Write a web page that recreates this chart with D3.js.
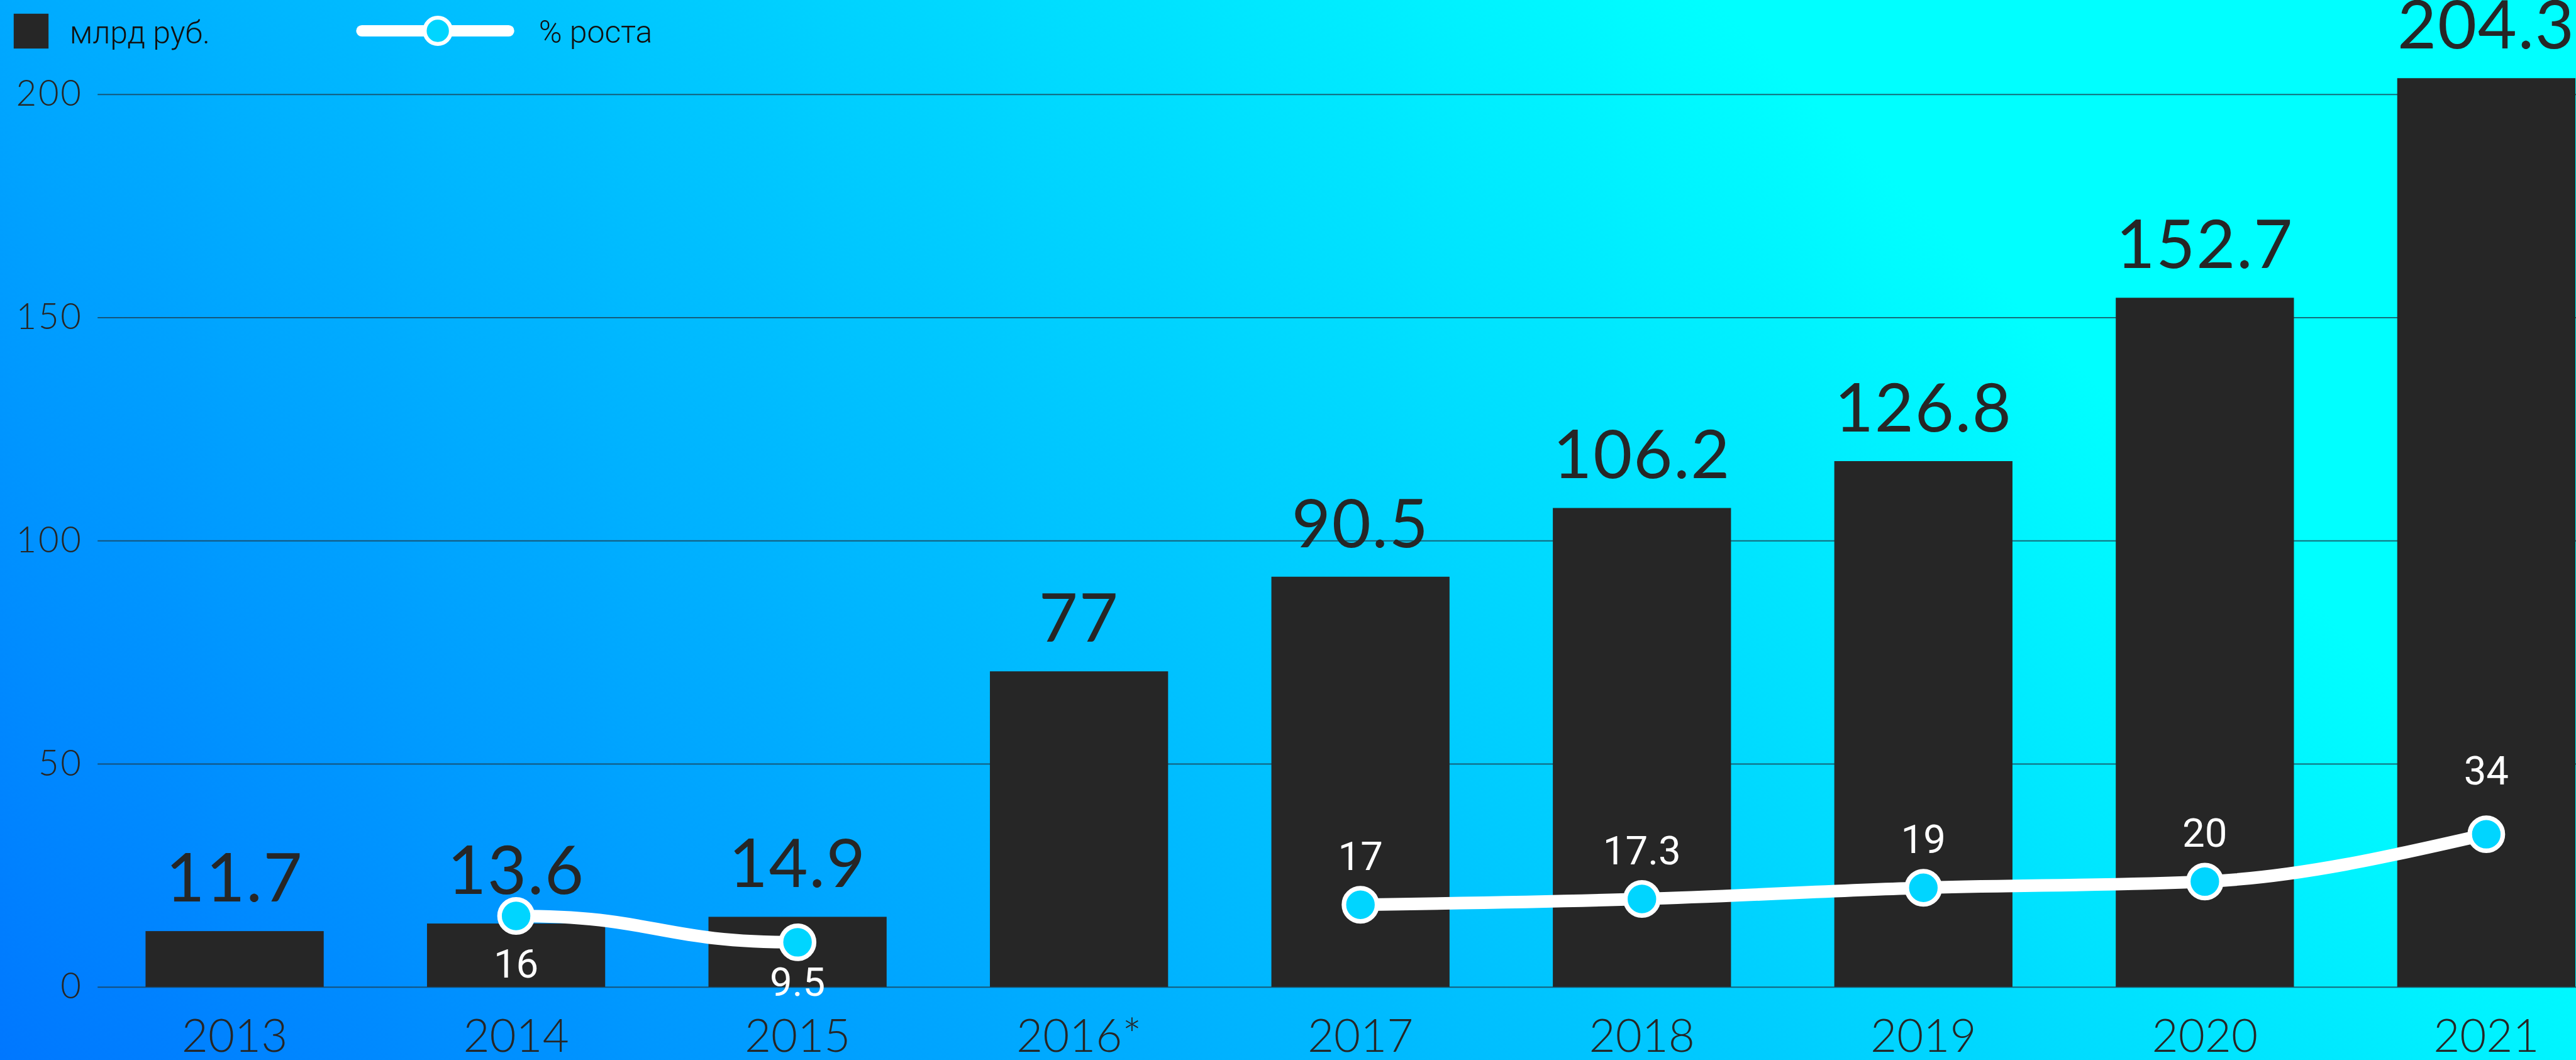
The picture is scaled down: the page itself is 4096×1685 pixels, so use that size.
<!DOCTYPE html>
<html>
<head>
<meta charset="utf-8">
<script src="https://cdn.jsdelivr.net/npm/d3@7"></script>
<style>
  html, body { margin:0; padding:0; overflow:hidden; }
  svg { display:block; }
</style>
</head>
<body>
<div id="plot"></div>
<script>
// chart data
var years = ['2013','2014','2015','2016*','2017','2018','2019','2020','2021'];
// bar heights as drawn (axis units) and the labels printed over them
var barValues = [12.5, 14.2, 15.7, 70.7, 91.9, 107.3, 117.8, 154.4, 203.6];
var barLabels = ['11.7','13.6','14.9','77','90.5','106.2','126.8','152.7','204.3'];
// growth line: position on the same axis, and printed % value (no point for 2016*)
var growthValues = [null, 15.9, 10.0, null, 18.4, 19.7, 22.2, 23.6, 34.2];
var growthLabels = [null, '16', '9.5', null, '17', '17.3', '19', '20', '34'];
var yTicks = [0, 50, 100, 150, 200];

// drawing is done in reference units (4513 x 1856), viewBox scales it to the window
var W = 4513, H = 1856;
var svg = d3.select('#plot')
    .append('svg')
    .attr('width', 4096)
    .attr('height', 1685)
    .attr('viewBox', '0 0 ' + W + ' ' + H)
    .attr('preserveAspectRatio', 'none');

// background gradient, blue bottom-left to cyan top-right
var defs = svg.append('defs');
var grad = defs.append('linearGradient')
    .attr('id', 'bg')
    .attr('gradientUnits', 'userSpaceOnUse')
    .attr('x1', 0).attr('y1', H)
    .attr('x2', 2430).attr('y2', H - 2430);
grad.append('stop').attr('offset', 0).attr('stop-color', '#0077ff');
grad.append('stop').attr('offset', 0.55).attr('stop-color', '#00c0ff');
grad.append('stop').attr('offset', 1).attr('stop-color', '#00ffff');
svg.append('rect').attr('width', W).attr('height', H).attr('fill', 'url(#bg)');

var x = d3.scaleBand()
    .domain(years)
    .range([164.5, 164.5 + 9 * 493.1])
    .paddingInner(0.367)
    .paddingOuter(0.1835);

var y = d3.scaleLinear()
    .domain([0, 200])
    .range([1728, 165]);

// y axis with gridlines
var yAxis = svg.append('g')
    .attr('transform', 'translate(171,0)')
    .call(d3.axisLeft(y).tickValues(yTicks).tickSize(-(W - 171)).tickPadding(26));
yAxis.select('.domain').remove();
yAxis.selectAll('.tick line')
    .attr('stroke', '#1c3c4c')
    .attr('stroke-opacity', 0.75)
    .attr('stroke-width', 2.2);
yAxis.selectAll('.tick text')
    .attr('fill', '#262626')
    .style('font-family', 'Lato, sans-serif')
    .style('font-weight', 300)
    .style('font-size', '62px')
    .style('letter-spacing', '3px');

// x axis labels
var xAxis = svg.append('g')
    .attr('transform', 'translate(0,1728)')
    .call(d3.axisBottom(x).tickSize(0));
xAxis.select('.domain').remove();
xAxis.selectAll('.tick text')
    .attr('y', 114)
    .attr('dy', null)
    .attr('fill', '#262626')
    .style('font-family', 'Lato, sans-serif')
    .style('font-weight', 300)
    .style('font-size', '80px');

// bars
svg.append('g').selectAll('rect')
    .data(years)
    .join('rect')
    .attr('x', function(d){ return x(d); })
    .attr('y', function(d, i){ return y(barValues[i]); })
    .attr('width', x.bandwidth())
    .attr('height', function(d, i){ return y(0) - y(barValues[i]); })
    .attr('fill', '#262626');

// bar labels
svg.append('g').selectAll('text')
    .data(years)
    .join('text')
    .attr('x', function(d){ return x(d) + x.bandwidth() / 2; })
    .attr('y', function(d, i){ return y(barValues[i]) - 52; })
    .attr('text-anchor', 'middle')
    .attr('fill', '#262626')
    .style('font-family', 'Lato, sans-serif')
    .style('font-weight', 400)
    .style('font-size', '118px')
    .style('letter-spacing', '2px')
    .text(function(d, i){ return barLabels[i]; });

// growth line: two pieces, the 2016* gap splits it
var pts = years.map(function(d, i){
    return {x: x(d) + x.bandwidth() / 2, v: growthValues[i], label: growthLabels[i], i: i};
});
var first = pts.filter(function(p){ return p.v != null && p.i < 3; });
var second = pts.filter(function(p){ return p.v != null && p.i > 3; });

var lineBump = d3.line().x(function(p){ return p.x; }).y(function(p){ return y(p.v); }).curve(d3.curveBumpX);
var lineMono = d3.line().x(function(p){ return p.x; }).y(function(p){ return y(p.v); }).curve(d3.curveMonotoneX);

svg.append('path').attr('d', lineBump(first))
    .attr('fill', 'none').attr('stroke', '#fff').attr('stroke-width', 22);
svg.append('path').attr('d', lineMono(second))
    .attr('fill', 'none').attr('stroke', '#fff').attr('stroke-width', 22);

var dots = pts.filter(function(p){ return p.v != null; });
svg.append('g').selectAll('circle')
    .data(dots)
    .join('circle')
    .attr('cx', function(p){ return p.x; })
    .attr('cy', function(p){ return y(p.v); })
    .attr('r', 29)
    .attr('fill', '#00d5ff')
    .attr('stroke', '#fff')
    .attr('stroke-width', 8);

svg.append('g').selectAll('text')
    .data(dots)
    .join('text')
    .attr('x', function(p){ return p.x; })
    .attr('y', function(p){
        if (p.i < 3) return y(p.v) + (p.i == 1 ? 108 : 94);
        return y(p.v) - (p.i == 8 ? 87 : 61);
    })
    .attr('text-anchor', 'middle')
    .attr('fill', '#fff')
    .style('font-family', 'Roboto, sans-serif')
    .style('font-weight', 400)
    .style('font-size', '70px')
    .text(function(p){ return p.label; });

// legend
var legend = svg.append('g');
legend.append('rect')
    .attr('x', 24).attr('y', 24).attr('width', 61).attr('height', 61)
    .attr('fill', '#262626');
legend.append('text')
    .attr('x', 122).attr('y', 76)
    .attr('fill', '#111')
    .style('font-family', 'Roboto, sans-serif')
    .style('font-weight', 300)
    .style('font-size', '55px')
    .text('млрд руб.');
legend.append('line')
    .attr('x1', 634).attr('x2', 891).attr('y1', 54).attr('y2', 54)
    .attr('stroke', '#fff').attr('stroke-width', 20).attr('stroke-linecap', 'round');
legend.append('circle')
    .attr('cx', 767).attr('cy', 54).attr('r', 23)
    .attr('fill', '#00d5ff').attr('stroke', '#fff').attr('stroke-width', 7);
legend.append('text')
    .attr('x', 944).attr('y', 75)
    .attr('fill', '#111')
    .style('font-family', 'Roboto, sans-serif')
    .style('font-weight', 300)
    .style('font-size', '55px')
    .text('% роста');
</script>
</body>
</html>
